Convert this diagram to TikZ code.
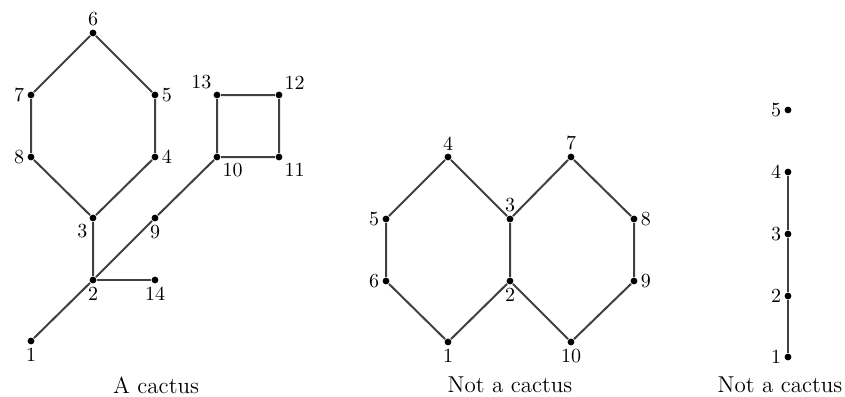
\documentclass[tikz,border=0pt]{standalone}
\tikzset{every picture/.style={line width=0.75pt}}
\begin{document}
\begin{tikzpicture}[x=0.5pt,y=0.5pt,yscale=-1,xscale=1,
  vtx/.style={circle,fill=black,inner sep=0pt,minimum size=3.4pt},
  every label/.style={inner sep=1pt,font=\fontsize{10}{12}\selectfont},
  label distance=0pt,
  edge/.style={draw=black!75,line width=1pt},
  caption/.style={font=\fontsize{11.5}{13}\selectfont,inner sep=0pt}]
\path[use as bounding box] (0,0) rectangle (845,396);

% A cactus
\node [vtx,label={below:1}] (c1) at (31,341) {};
\node [vtx,label={below:2}] (c2) at (93,280) {};
\node [vtx,label={below left:3}] (c3) at (93,218) {};
\node [vtx,label={right:4}] (c4) at (155,157) {};
\node [vtx,label={right:5}] (c5) at (155,95) {};
\node [vtx,label={above:6}] (c6) at (93,33) {};
\node [vtx,label={left:7}] (c7) at (31,95) {};
\node [vtx,label={left:8}] (c8) at (31,157) {};
\node [vtx,label={below:9}] (c9) at (155,218) {};
\node [vtx,label={below right:10}] (c10) at (217,157) {};
\node [vtx,label={below right:11}] (c11) at (279,157) {};
\node [vtx,label={above right:12}] (c12) at (279,95) {};
\node [vtx,label={above left:13}] (c13) at (217,95) {};
\node [vtx,label={below:14}] (c14) at (155,280) {};
\draw [edge] (c1) -- (c2) -- (c3) -- (c4) -- (c5) -- (c6) -- (c7) -- (c8) -- (c3);
\draw [edge] (c2) -- (c9) -- (c10) -- (c11) -- (c12) -- (c13) -- (c10);
\draw [edge] (c2) -- (c14);
\node [caption] (cap1) at (156,385) {A cactus};

% Not a cactus (two cycles sharing an edge)
\node [vtx,label={below:1}] (n1) at (448,342) {};
\node [vtx,label={below:2}] (n2) at (510,281) {};
\node [vtx,label={above:3}] (n3) at (510,219) {};
\node [vtx,label={above:4}] (n4) at (448,157) {};
\node [vtx,label={left:5}] (n5) at (386,219) {};
\node [vtx,label={left:6}] (n6) at (386,281) {};
\node [vtx,label={above:7}] (n7) at (571,157) {};
\node [vtx,label={right:8}] (n8) at (634,219) {};
\node [vtx,label={right:9}] (n9) at (634,281) {};
\node [vtx,label={below:10}] (n10) at (571,342) {};
\draw [edge] (n1) -- (n2) -- (n3) -- (n4) -- (n5) -- (n6) -- (n1);
\draw [edge] (n3) -- (n7) -- (n8) -- (n9) -- (n10) -- (n2);
\node [caption] (cap2) at (510,385) {Not a cactus};

% Not a cactus (disconnected)
\node [vtx,label={left:1}] (p1) at (788,357) {};
\node [vtx,label={left:2}] (p2) at (788,296) {};
\node [vtx,label={left:3}] (p3) at (788,234) {};
\node [vtx,label={left:4}] (p4) at (788,172) {};
\node [vtx,label={left:5}] (p5) at (788,110) {};
\draw [edge] (p1) -- (p2) -- (p3) -- (p4);
\node [caption] (cap3) at (780,385) {Not a cactus};

\end{tikzpicture}
\end{document}
